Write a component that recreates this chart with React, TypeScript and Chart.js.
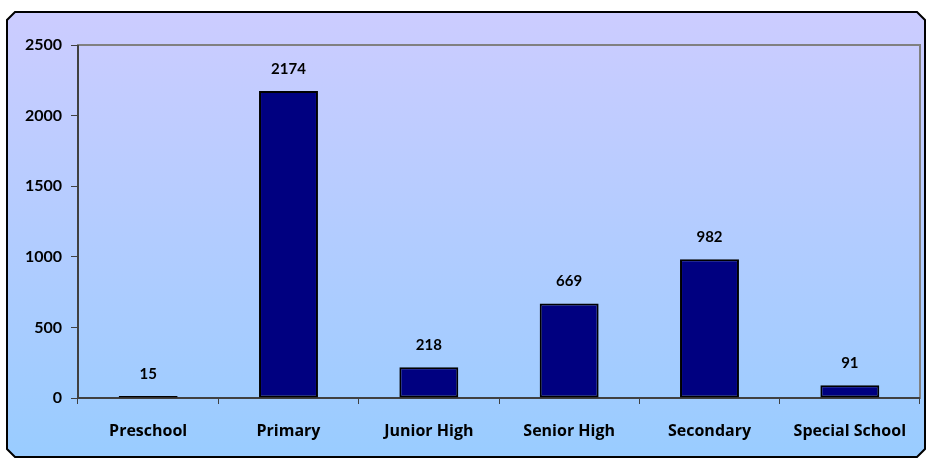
import React, { useEffect, useRef } from "react";
import { Chart, registerables } from "chart.js";

Chart.register(...registerables);

const categories = ["Preschool", "Primary", "Junior High", "Senior High", "Secondary", "Special School"];
const values = [15, 2174, 218, 669, 982, 91];
const yTicks = [0, 500, 1000, 1500, 2000, 2500];

const FONT = "Lato, 'Open Sans', sans-serif";

const framePlugin = {
  id: "frame",
  beforeDraw(chart: any) {
    const { ctx, width, height } = chart;
    ctx.save();
    ctx.fillStyle = "#ffffff";
    ctx.fillRect(0, 0, width, height);
    const x0 = 7, y0 = 12, x1 = 925, y1 = 457, c = 8;
    const g = ctx.createLinearGradient(0, y0, 0, y1);
    g.addColorStop(0, "#ccccff");
    g.addColorStop(1, "#99ccff");
    ctx.beginPath();
    ctx.moveTo(x0 + c, y0);
    ctx.lineTo(x1 - c, y0);
    ctx.lineTo(x1, y0 + c);
    ctx.lineTo(x1, y1 - c);
    ctx.lineTo(x1 - c, y1);
    ctx.lineTo(x0 + c, y1);
    ctx.lineTo(x0, y1 - c);
    ctx.lineTo(x0, y0 + c);
    ctx.closePath();
    ctx.fillStyle = g;
    ctx.fill();
    ctx.lineWidth = 2;
    ctx.strokeStyle = "#000000";
    ctx.stroke();
    ctx.restore();
  },
  beforeDatasetsDraw(chart: any) {
    const { ctx, chartArea } = chart;
    ctx.save();
    ctx.strokeStyle = "#808080";
    ctx.lineWidth = 2;
    ctx.strokeRect(chartArea.left, chartArea.top, chartArea.right - chartArea.left, chartArea.bottom - chartArea.top);
    ctx.beginPath();
    ctx.strokeStyle = "#404040";
    ctx.moveTo(chartArea.left, chartArea.top);
    ctx.lineTo(chartArea.left, chartArea.bottom);
    ctx.lineTo(chartArea.right, chartArea.bottom);
    ctx.stroke();
    ctx.restore();
  },
  afterDatasetsDraw(chart: any) {
    const { ctx } = chart;
    const meta = chart.getDatasetMeta(0);
    ctx.save();
    ctx.fillStyle = "#000000";
    ctx.font = `bold 15px ${FONT}`;
    ctx.textAlign = "center";
    ctx.textBaseline = "middle";
    meta.data.forEach((bar: any, i: number) => {
      ctx.fillText(String(values[i]), bar.x, bar.y - 22);
    });
    ctx.restore();
  },
};

export default function App() {
  const ref = useRef<HTMLCanvasElement>(null);
  useEffect(() => {
    document.body.style.margin = "0";
    const chart = new Chart(ref.current!, {
      type: "bar",
      data: {
        labels: categories,
        datasets: [
          {
            data: values,
            backgroundColor: "#000080",
            borderColor: "#000000",
            borderWidth: 2,
            borderSkipped: false,
            categoryPercentage: 1,
            barPercentage: 0.42,
          },
        ],
      },
      options: {
        responsive: false,
        animation: false,
        layout: { padding: { left: 8, right: 7, top: 45, bottom: 12 } },
        plugins: { legend: { display: false }, tooltip: { enabled: false } },
        scales: {
          x: {
            offset: true,
            grid: { display: true, drawOnChartArea: false, drawTicks: true, tickLength: 6, color: "#404040", offset: true },
            border: { display: false },
            ticks: { color: "#000", font: { family: "'Open Sans', Lato, sans-serif", size: 16, weight: "bold" }, padding: 18, maxRotation: 0 },
            afterFit: (s: any) => { s.height = 50; },
          },
          y: {
            min: 0,
            max: 2500,
            afterBuildTicks: (s: any) => { s.ticks = yTicks.map((v) => ({ value: v })); },
            grid: { display: true, drawOnChartArea: false, drawTicks: true, tickLength: 7, color: "#404040" },
            border: { display: false },
            ticks: { color: "#000", font: { family: FONT, size: 16, weight: "bold" }, padding: 9, callback: (v: any) => String(v) },
            afterFit: (s: any) => { s.width = 70; },
          },
        },
      },
      plugins: [framePlugin],
    });
    return () => chart.destroy();
  }, []);
  return <canvas ref={ref} width={927} height={460} style={{ display: "block" }} />;
}
